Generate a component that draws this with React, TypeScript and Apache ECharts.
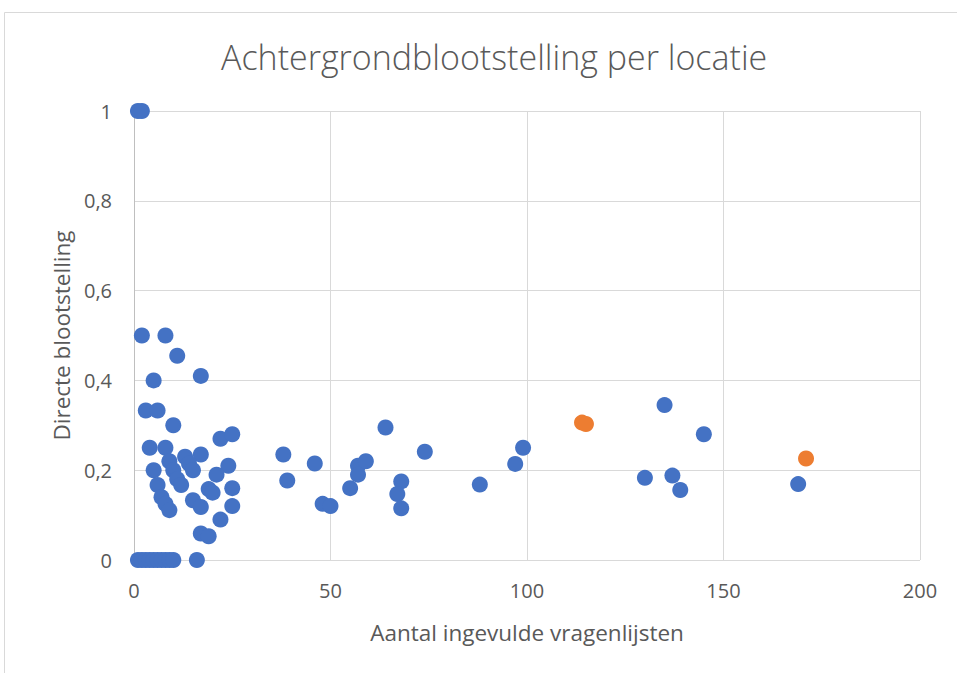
import React, { useEffect, useRef } from "react";
import * as echarts from "echarts";

const titleText = "Achtergrondblootstelling per locatie";
const xAxisName = "Aantal ingevulde vragenlijsten";
const yAxisName = "Directe blootstelling";

const blueX = [
  1, 2,
  2, 8, 11, 5, 17, 3, 6, 10, 22, 25, 4, 8, 9, 13, 17, 5, 10, 14, 15, 11, 12, 24, 21, 6, 7, 8, 9, 15, 17, 19, 20, 25, 25, 22, 17, 19, 16,
  1, 2, 3, 4, 5, 6, 7, 8, 9, 10,
  38, 39, 46, 48, 50, 55, 57, 59, 57, 64, 68, 67, 68, 74, 88, 97, 99, 130, 135, 137, 139, 145, 169,
];
const blueY = [
  1, 1,
  0.5, 0.5, 0.455, 0.4, 0.41, 0.333, 0.333, 0.3, 0.27, 0.28, 0.25, 0.25, 0.22, 0.23, 0.235, 0.2, 0.2, 0.215, 0.2, 0.18, 0.167, 0.21, 0.19, 0.167, 0.14, 0.125, 0.111, 0.133, 0.118, 0.158, 0.15, 0.16, 0.12, 0.09, 0.059, 0.053, 0,
  0, 0, 0, 0, 0, 0, 0, 0, 0, 0,
  0.235, 0.177, 0.215, 0.125, 0.12, 0.16, 0.21, 0.22, 0.19, 0.295, 0.175, 0.147, 0.115, 0.241, 0.168, 0.214, 0.25, 0.183, 0.345, 0.188, 0.156, 0.28, 0.169,
];
const orangeX = [114, 115, 171];
const orangeY = [0.306, 0.303, 0.226];

const xTicks = { min: 0, max: 200, interval: 50 };
const yTicks = { min: 0, max: 1, interval: 0.2 };

const FONT = "'Open Sans', 'Noto Sans', sans-serif";

export default function App() {
  const ref = useRef<HTMLDivElement>(null);
  useEffect(() => {
    if (!ref.current) return;
    const chart = echarts.init(ref.current, null, { renderer: "svg" });
    const pair = (xs: number[], ys: number[]) => xs.map((x, i) => [x, ys[i]]);
    chart.setOption({
      animation: false,
      backgroundColor: "#ffffff",
      title: {
        text: titleText,
        left: 216,
        top: 35,
        textStyle: { fontFamily: FONT, fontSize: 34, fontWeight: 300, color: "#595959" },
      },
      graphic: [
        {
          type: "rect",
          shape: { x: 4.5, y: 12.5, width: 1000, height: 700 },
          style: { fill: "none", stroke: "#d9d9d9", lineWidth: 1 },
          silent: true,
          z: -1,
        },
      ],
      grid: { left: 134, right: 37, top: 111, bottom: 113 },
      xAxis: {
        type: "value",
        min: xTicks.min,
        max: xTicks.max,
        interval: xTicks.interval,
        name: xAxisName,
        nameLocation: "middle",
        nameGap: 61,
        nameTextStyle: { fontFamily: FONT, fontSize: 22.5, color: "#595959" },
        axisLine: { show: false },
        axisTick: { show: false },
        axisLabel: { fontFamily: FONT, fontSize: 20, color: "#595959", margin: 20 },
        splitLine: { show: true, lineStyle: { color: "#d9d9d9", width: 1 } },
      },
      yAxis: {
        type: "value",
        min: yTicks.min,
        max: yTicks.max,
        interval: yTicks.interval,
        name: yAxisName,
        nameLocation: "middle",
        nameGap: 61,
        nameTextStyle: { fontFamily: FONT, fontSize: 22.5, color: "#595959" },
        axisLine: { show: true, lineStyle: { color: "#bfbfbf", width: 1 } },
        axisTick: { show: false },
        axisLabel: {
          fontFamily: FONT,
          fontSize: 20,
          color: "#595959",
          margin: 22,
          formatter: (v: number) => String(Math.round(v * 10) / 10).replace(".", ","),
        },
        splitLine: { show: true, lineStyle: { color: "#d9d9d9", width: 1 } },
      },
      series: [
        {
          type: "scatter",
          data: pair(blueX, blueY),
          symbolSize: 16,
          itemStyle: { color: "#4472c4", opacity: 1 },
        },
        {
          type: "scatter",
          data: pair(orangeX, orangeY),
          symbolSize: 16,
          itemStyle: { color: "#ed7d31", opacity: 1 },
        },
      ],
    });
    return () => chart.dispose();
  }, []);
  return (
    <div
      ref={ref}
      style={{ position: "fixed", left: 0, top: 0, width: 957, height: 673, background: "#fff" }}
    />
  );
}
